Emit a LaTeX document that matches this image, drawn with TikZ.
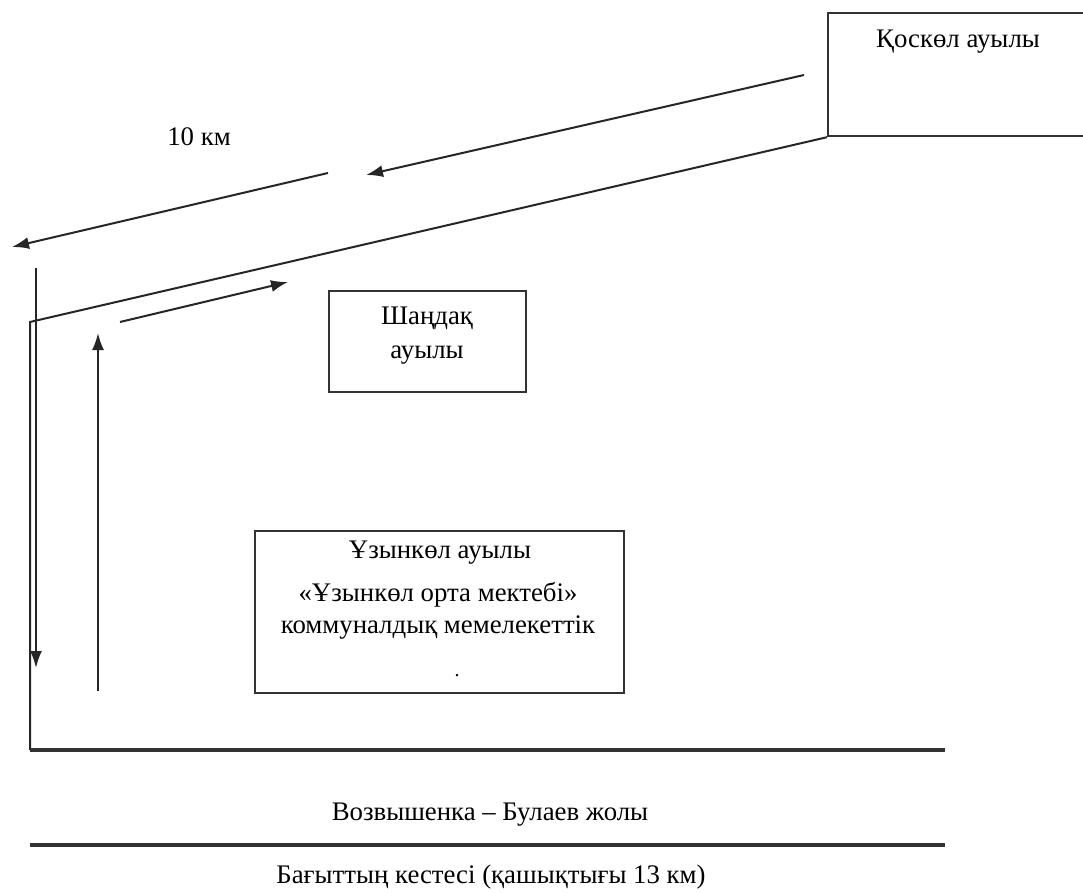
\documentclass[tikz,border=0pt]{standalone}
\usepackage{fontspec}
\setmainfont{Liberation Serif}
\usetikzlibrary{arrows.meta}
\tikzset{
  box/.style={draw=black!80, line width=2.2pt, inner sep=0pt},
  thin/.style={draw=black!85, line width=2pt},
  thick/.style={draw=black!80, line width=3.2pt},
  arr/.style={thin, -{Latex[length=17pt,width=12pt]}},
  txt/.style={font=\fontsize{26.8}{32}\selectfont, inner sep=0pt, align=center}
}
\begin{document}
\begin{tikzpicture}[x=1pt,y=-1pt]
\useasboundingbox (0,0) rectangle (1083,893);
\clip (0,0) rectangle (1083,893);
% boxes
\node[box, minimum width=270pt, minimum height=123pt, anchor=north west] (koskol) at (827,12) {};
\node[txt] (koskoltxt) at (958,42) {Қоскөл ауылы};
\node[box, minimum width=197pt, minimum height=101pt, anchor=north west] (shandak) at (328,290) {};
\node[txt, font=\fontsize{26.8}{34}\selectfont] (shandaktxt) at (427,336) {Шаңдақ\\ауылы};
\node[box, minimum width=369pt, minimum height=162pt, anchor=north west] (uzyn) at (254,530) {};
\node[txt] (uzyntitle) at (440,553) {Ұзынкөл ауылы};
\node[txt] (uzynschool) at (438,611) {«Ұзынкөл орта мектебі»\\коммуналдық мемелекеттік};
\node[txt, font=\fontsize{20}{20}\selectfont] (dot) at (457,676) {.};
% labels
\node[txt] (km) at (199,137) {10 км};
\node[txt] (road) at (490,815) {Возвышенка – Булаев жолы};
\node[txt] (sched) at (491,877) {Бағыттың кестесі (қашықтығы 13 км)};
% coordinates
\coordinate (a1s) at (804,75);
\coordinate (a1e) at (366,175);
\coordinate (a2s) at (328,173);
\coordinate (a2e) at (12,247);
\coordinate (j) at (30,322);
\coordinate (bl) at (30,750);
\coordinate (br) at (945,750);
\coordinate (l2l) at (30,845);
\coordinate (l2r) at (945,845);
\coordinate (dns) at (36,268);
\coordinate (dne) at (36,668);
\coordinate (ups) at (98,691);
\coordinate (upe) at (98,333);
\coordinate (rs) at (120,322);
\coordinate (re) at (288,282);
% route outline
\draw[thin] (koskol.south west) -- (j) -- (bl);
\draw[thick] (bl) -- (br);
\draw[thick] (l2l) -- (l2r);
% arrows
\draw[arr] (a1s) -- (a1e);
\draw[arr] (a2s) -- (a2e);
\draw[arr] (dns) -- (dne);
\draw[arr] (ups) -- (upe);
\draw[arr] (rs) -- (re);
\end{tikzpicture}
\end{document}
